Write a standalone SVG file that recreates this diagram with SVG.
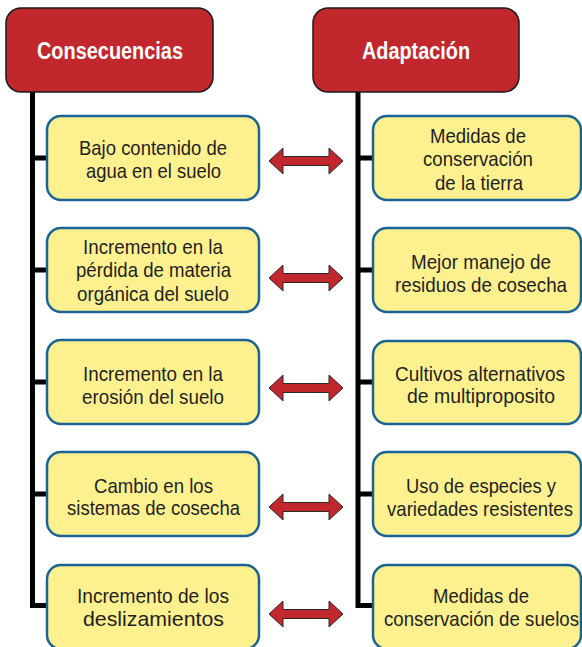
<svg xmlns="http://www.w3.org/2000/svg" width="582" height="647" viewBox="0 0 582 647">
<style>
.hdr{fill:#C1272D;stroke:#1a1a1a;stroke-width:1.5}
.hdrt{font-family:"Liberation Sans",Arial,sans-serif;font-weight:bold;font-size:24px;fill:#ffffff}
.box{fill:#FDF18F;stroke:#1B6394;stroke-width:2.5}
.t{font-family:"Liberation Sans",Arial,sans-serif;font-size:21px;fill:#231F20}
.ln{fill:none;stroke:#000000;stroke-width:5}
.arr{fill:#C1272D;stroke:#2a2a2a;stroke-width:1}
</style>
<defs>
<path id="dblarrow" class="arr" d="M-37,0 L-23,-13 L-23,-4.5 L23,-4.5 L23,-13 L37,0 L23,13 L23,4.5 L-23,4.5 L-23,13 Z"/>
</defs>
<g id="connectors">
<path class="ln" d="M32.5,92 V605.5 H47"/>
<path class="ln" d="M32.5,158 H47 M32.5,270 H47 M32.5,382 H47 M32.5,494 H47"/>
<path class="ln" d="M358,92 V605.5 H373"/>
<path class="ln" d="M358,158 H373 M358,270 H373 M358,382 H373 M358,494 H373"/>
<use href="#dblarrow" x="306" y="161"/>
<use href="#dblarrow" x="306" y="278"/>
<use href="#dblarrow" x="306" y="388"/>
<use href="#dblarrow" x="306" y="507"/>
<use href="#dblarrow" x="306" y="614"/>
</g>
<g id="hdr-consecuencias">
<rect class="hdr" x="6" y="8" width="207" height="84" rx="15"/>
<text class="hdrt" x="37" y="59" textLength="146" lengthAdjust="spacingAndGlyphs">Consecuencias</text>
</g>
<g id="hdr-adaptacion">
<rect class="hdr" x="313" y="8" width="206" height="84" rx="15"/>
<text class="hdrt" x="362" y="59" textLength="108" lengthAdjust="spacingAndGlyphs">Adaptación</text>
</g>
<g id="c1">
<rect class="box" x="47" y="116" width="212" height="84" rx="14"/>
<text class="t" x="79" y="155" textLength="148" lengthAdjust="spacingAndGlyphs">Bajo contenido de</text>
<text class="t" x="86" y="178" textLength="135" lengthAdjust="spacingAndGlyphs">agua en el suelo</text>
</g>
<g id="c2">
<rect class="box" x="47" y="228" width="212" height="84" rx="14"/>
<text class="t" x="83" y="254" textLength="140" lengthAdjust="spacingAndGlyphs">Incremento en la</text>
<text class="t" x="76" y="277" textLength="155" lengthAdjust="spacingAndGlyphs">pérdida de materia</text>
<text class="t" x="77" y="301" textLength="152" lengthAdjust="spacingAndGlyphs">orgánica del suelo</text>
</g>
<g id="c3">
<rect class="box" x="47" y="340" width="212" height="84" rx="14"/>
<text class="t" x="83" y="381" textLength="140" lengthAdjust="spacingAndGlyphs">Incremento en la</text>
<text class="t" x="82" y="404" textLength="142" lengthAdjust="spacingAndGlyphs">erosión del suelo</text>
</g>
<g id="c4">
<rect class="box" x="47" y="452" width="212" height="84" rx="14"/>
<text class="t" x="94" y="493" textLength="119" lengthAdjust="spacingAndGlyphs">Cambio en los</text>
<text class="t" x="67" y="515" textLength="173" lengthAdjust="spacingAndGlyphs">sistemas de cosecha</text>
</g>
<g id="c5">
<rect class="box" x="47" y="565" width="212" height="84" rx="14"/>
<text class="t" x="77" y="603" textLength="152" lengthAdjust="spacingAndGlyphs">Incremento de los</text>
<text class="t" x="83" y="626" textLength="141" lengthAdjust="spacingAndGlyphs">deslizamientos</text>
</g>
<g id="a1">
<rect class="box" x="373" y="116" width="208" height="84" rx="14"/>
<text class="t" x="430" y="143" textLength="96" lengthAdjust="spacingAndGlyphs">Medidas de</text>
<text class="t" x="423" y="166" textLength="110" lengthAdjust="spacingAndGlyphs">conservación</text>
<text class="t" x="435" y="190" textLength="88" lengthAdjust="spacingAndGlyphs">de la tierra</text>
</g>
<g id="a2">
<rect class="box" x="373" y="228" width="208" height="84" rx="14"/>
<text class="t" x="411" y="269" textLength="140" lengthAdjust="spacingAndGlyphs">Mejor manejo de</text>
<text class="t" x="395" y="292" textLength="172" lengthAdjust="spacingAndGlyphs">residuos de cosecha</text>
</g>
<g id="a3">
<rect class="box" x="373" y="341" width="208" height="83" rx="14"/>
<text class="t" x="395" y="381" textLength="170" lengthAdjust="spacingAndGlyphs">Cultivos alternativos</text>
<text class="t" x="407" y="403" textLength="148" lengthAdjust="spacingAndGlyphs">de multiproposito</text>
</g>
<g id="a4">
<rect class="box" x="373" y="452" width="208" height="84" rx="14"/>
<text class="t" x="406" y="493" textLength="150" lengthAdjust="spacingAndGlyphs">Uso de especies y</text>
<text class="t" x="387" y="516" textLength="186" lengthAdjust="spacingAndGlyphs">variedades resistentes</text>
</g>
<g id="a5">
<rect class="box" x="373" y="565" width="208" height="84" rx="14"/>
<text class="t" x="433" y="603" textLength="96" lengthAdjust="spacingAndGlyphs">Medidas de</text>
<text class="t" x="384" y="626" textLength="195" lengthAdjust="spacingAndGlyphs">conservación de suelos</text>
</g>
</svg>
